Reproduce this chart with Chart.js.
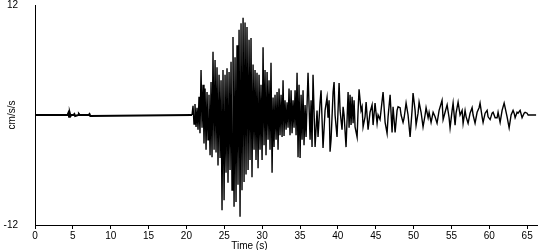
<!DOCTYPE html>
<html><head><meta charset="utf-8">
<script src="https://cdn.jsdelivr.net/npm/chart.js@4/dist/chart.umd.min.js"></script>
<style>html,body{margin:0;padding:0;background:#fff}#wrap{width:550px;height:250px;position:relative}</style>
</head><body><div id="wrap"><canvas id="c"></canvas></div>
<script>
// Pre-event (quiet) segment: time (s), acceleration (cm/s/s)
const preTime  = [0, 4.30, 4.40, 4.50, 4.60, 4.70, 4.80, 5.10, 5.20, 5.30, 5.70, 5.80, 5.90, 7.10, 7.20, 7.30, 20.74];
const preAccel = [0, 0, 0.2, -0.2, 0.2, -0.1, 0, 0, 0.1, -0.1, 0, 0.1, 0, 0, 0.1, -0.1, 0];

// Strong-motion segment
const strongTime = [
 20.87,21.00,21.13,21.27,21.40,21.53,21.66,21.79,21.93,22.06,
 22.19,22.32,22.46,22.59,22.72,22.85,22.98,23.12,23.25,23.38,
 23.51,23.65,23.78,23.91,24.04,24.17,24.31,24.44,24.57,24.70,
 24.83,24.97,25.10,25.23,25.36,25.49,25.63,25.76,25.89,26.02,
 26.15,26.29,26.42,26.55,26.68,26.81,26.95,27.08,27.21,27.34,
 27.48,27.61,27.74,27.87,28.00,28.14,28.27,28.40,28.53,28.66,
 28.80,28.93,29.06,29.19,29.32,29.46,29.59,29.72,29.85,29.99,
 30.12,30.25,30.38,30.51,30.65,30.78,30.91,31.04,31.17,31.31,
 31.44,31.57,31.70,31.84,31.97,32.10,32.23,32.36,32.50,32.63,
 32.76,32.89,33.02,33.16,33.29,33.42,33.55,33.68,33.82,33.95,
 34.08,34.21,34.35,34.48,34.61,34.74,34.87,35.01,35.14,35.27,
 35.40,35.53,35.67,35.80];
const strongAccel = [
 1.0,-1.0,1.2,-1.3,0.8,-1.6,2.0,-2.0,4.9,-1.4,
 3.3,-3.1,2.9,-3.8,2.5,-2.7,2.2,-4.4,3.6,-4.6,
 6.9,-3.8,6.0,-4.1,5.2,-5.5,4.4,-4.7,3.8,-10.4,
 4.9,-9.3,4.4,-6.3,5.1,-7.4,4.7,-6.0,5.8,-8.2,
 8.5,-10.0,6.3,-9.5,7.6,-7.6,9.3,-11.1,10.0,-8.2,
 10.6,-7.3,10.1,-6.5,9.6,-6.0,8.2,-4.9,8.4,-6.8,
 5.5,-3.8,4.9,-4.9,4.6,-5.8,4.4,-3.8,3.3,-4.9,
 7.4,-3.3,4.9,-4.4,4.7,-2.7,3.8,-3.8,5.7,-6.3,
 1.9,-3.5,2.2,-2.7,2.5,-3.8,2.9,-2.2,2.2,-2.4,
 3.8,-2.3,1.6,-1.6,1.4,-1.4,2.9,-2.2,2.7,-2.0,
 1.6,-1.4,2.7,-2.2,4.6,-4.6,3.3,-4.7,2.2,-2.7,
 2.7,-3.3,1.1,-2.4];

// Coda segment
const codaTime = [
 36.06,36.33,36.46,36.59,36.72,36.99,37.25,37.38,37.65,37.78,
 38.04,38.31,38.57,38.70,38.84,38.97,39.10,39.37,39.50,39.63,
 39.89,40.16,40.29,40.55,40.69,40.82,41.08,41.35,41.48,41.61,
 41.74,41.88,42.01,42.14,42.27,42.54,42.67,42.80,43.06,43.20,
 43.33,43.59,43.73,43.99,44.25,44.52,44.65,44.91,45.18,45.31,
 45.57,45.97,46.24,46.50,46.63,46.90,47.16,47.29,47.56,47.82,
 47.95,48.22,48.35,48.61,48.75,49.01,49.27,49.54,49.80,49.93,
 50.20,50.33,50.59,50.73,50.99,51.25,51.52,51.65,51.92,52.05,
 52.31,52.58,52.84,53.10,53.37,53.76,53.90,54.16,54.43,54.69,
 54.82,55.09,55.22,55.48,55.61,55.88,56.14,56.41,56.54,56.80,
 56.94,57.20,57.46,57.73,57.86,58.12,58.39,58.65,58.78,59.05,
 59.18,59.45,59.71,59.84,60.11,60.37,60.50,60.77,61.03,61.16,
 61.43,61.69,61.96,62.09,62.35,62.62,62.88,63.14,63.28,63.41,
 63.67,63.80,64.07,64.33,64.60,64.73,64.99,65.13,66.18];
const codaAccel = [
 4.6,-2.7,1.6,-3.5,4.4,-3.5,0.5,-2.4,1.4,2.7,
 -3.6,0.5,1.9,-0.3,1.6,-4.0,-2.7,2.5,3.6,0.0,
 -2.4,3.5,0.5,-1.6,0.9,0.0,-3.5,2.5,-1.4,2.2,
 -1.1,2.0,-0.9,1.6,-1.3,-2.4,0.5,2.8,0.5,0.9,
 -1.3,-0.2,1.4,-1.6,0.3,1.1,-1.1,1.3,-0.9,0.0,
 -0.5,2.5,-0.8,-2.0,-0.2,2.2,-1.9,0.9,-1.9,0.5,
 0.9,0.8,0.0,-0.8,-0.3,1.3,0.0,-2.4,0.5,2.4,
 0.5,-1.1,0.2,1.4,0.3,-1.3,0.0,0.8,-0.3,0.3,
 -0.8,0.3,-0.2,-0.9,0.5,1.6,-0.5,0.3,1.1,-0.3,
 -1.4,0.5,1.3,-1.1,0.2,1.4,0.0,0.5,-0.9,0.5,
 -0.2,-0.9,0.2,0.8,0.0,-0.9,0.3,0.8,1.3,-0.2,
 -0.8,0.2,0.5,-0.2,-0.5,0.2,0.3,-0.3,-0.3,0.3,
 -0.8,0.5,1.3,0.8,-0.2,-1.4,0.0,0.5,0.2,-0.3,
 0.3,0.2,0.5,-0.3,0.2,0.3,0.2,0.0,0.0];

const xTickValues = [0,5,10,15,20,25,30,35,40,45,50,55,60,65];
const yTickValues = [-12, 12];
const xTitle = 'Time (s)';
const yTitle = 'cm/s/s';

const times = [...preTime, ...strongTime, ...codaTime];
const accel = [...preAccel, ...strongAccel, ...codaAccel];
const points = times.map((t, i) => ({x: t, y: accel[i]}));

const FONT = {family: '"Liberation Sans", Arial, sans-serif', size: 10};

const xTitlePlugin = {
  id: 'xTitleOffset',
  afterDraw(chart) {
    const {ctx, chartArea} = chart;
    ctx.save();
    ctx.font = '10px "Liberation Sans", Arial, sans-serif';
    ctx.fillStyle = '#000';
    ctx.textAlign = 'center';
    ctx.textBaseline = 'middle';
    ctx.fillText(xTitle, chartArea.left + (chartArea.right - chartArea.left) * 0.427, chartArea.bottom + 21);
    ctx.restore();
  }
};

new Chart(document.getElementById('c'), {
  type: 'line',
  data: {
    datasets: [{
      data: points,
      borderColor: '#000',
      borderWidth: 1.4,
      pointRadius: 0,
      tension: 0,
      fill: false,
      segment: { borderWidth: c => (c.p1.parsed.x < 20.8 ? 2 : 1.4) }
    }]
  },
  options: {
    responsive: true,
    maintainAspectRatio: false,
    animation: false,
    events: [],
    layout: { padding: { left: 0, top: 5, right: 13, bottom: 0 } },
    plugins: { legend: { display: false }, tooltip: { enabled: false } },
    scales: {
      x: {
        type: 'linear', min: 0, max: 66.3,
        afterBuildTicks: s => { s.ticks = xTickValues.map(v => ({ value: v })); },
        afterFit: s => { s.height = 25; s.paddingLeft = 0; s.paddingRight = 0; },
        grid: { display: true, drawOnChartArea: false, drawTicks: true, tickLength: 4, color: '#000', lineWidth: 1 },
        border: { display: true, color: '#000', width: 1 },
        ticks: { color: '#000', font: FONT, padding: 1, maxRotation: 0, autoSkip: false }
      },
      y: {
        min: -12, max: 12,
        afterBuildTicks: s => { s.ticks = yTickValues.map(v => ({ value: v })); },
        afterFit: s => { s.width = 35; s.paddingTop = 0; s.paddingBottom = 0; },
        grid: { display: false, drawTicks: false },
        border: { display: true, color: '#000', width: 1 },
        ticks: { color: '#000', font: FONT, padding: 17 },
        title: { display: true, text: yTitle, color: '#000', font: FONT, padding: { top: 6, bottom: 0 } }
      }
    }
  },
  plugins: [xTitlePlugin]
});
</script>
</body></html>
